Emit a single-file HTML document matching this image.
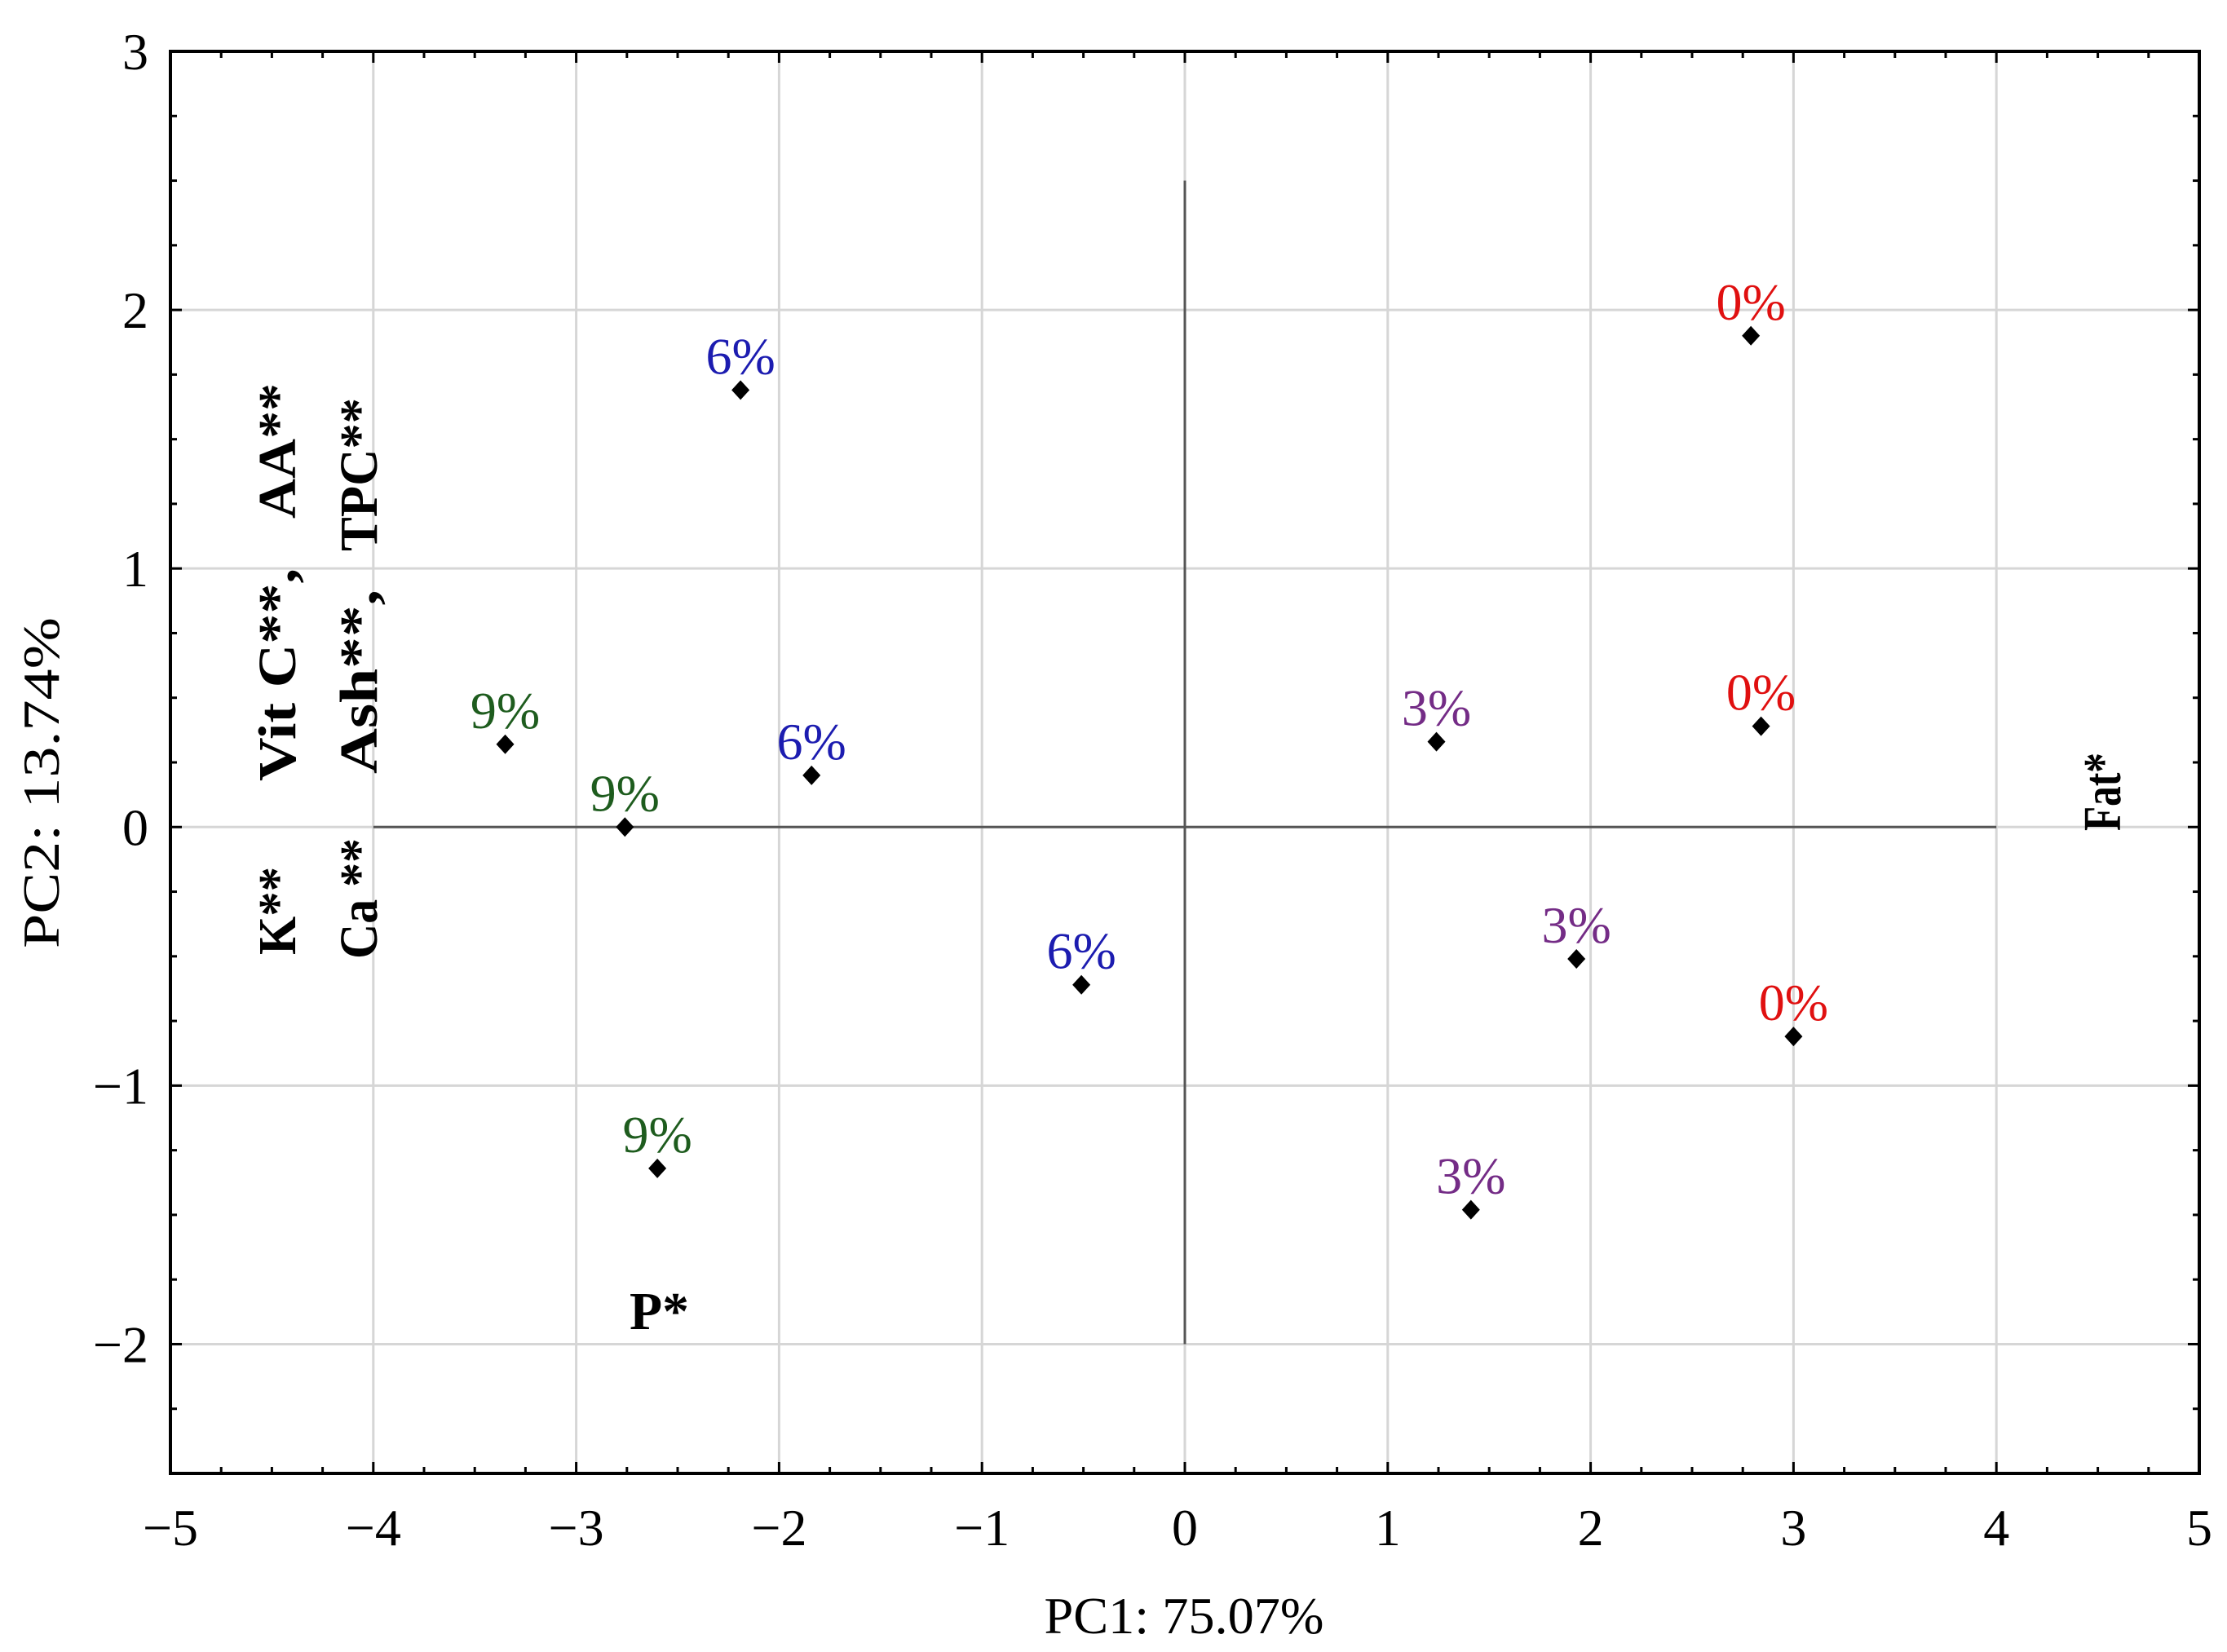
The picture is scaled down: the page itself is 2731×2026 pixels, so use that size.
<!DOCTYPE html>
<html><head><meta charset="utf-8"><style>
html,body{margin:0;padding:0;background:#fff;}
svg{display:block;font-family:"Liberation Serif",serif;}
</style></head><body>
<svg id="chart" width="2731" height="2026" viewBox="0 0 2731 2026" xmlns="http://www.w3.org/2000/svg">
<g id="grid"></g>
<g id="cross"></g>
<g id="axes"></g>
<g id="points"></g>
<g id="vars" font-size="66" font-weight="bold">
  <text x="362" y="958" textLength="261" lengthAdjust="spacingAndGlyphs" transform="rotate(-90 362 958)">Vit C**,</text>
  <text x="362" y="636" textLength="166" lengthAdjust="spacingAndGlyphs" transform="rotate(-90 362 636)">AA**</text>
  <text x="362" y="1171" textLength="108" lengthAdjust="spacingAndGlyphs" transform="rotate(-90 362 1171)">K**</text>
  <text x="462" y="949" textLength="226" lengthAdjust="spacingAndGlyphs" transform="rotate(-90 462 949)">Ash**,</text>
  <text x="462" y="676" textLength="188" lengthAdjust="spacingAndGlyphs" transform="rotate(-90 462 676)">TPC**</text>
  <text x="462" y="1176" textLength="148" lengthAdjust="spacingAndGlyphs" transform="rotate(-90 462 1176)">Ca **</text>
  <text x="2600" y="1019" textLength="96" lengthAdjust="spacingAndGlyphs" transform="rotate(-90 2600 1019)">Fat*</text>
  <text x="772" y="1630" textLength="73" lengthAdjust="spacingAndGlyphs">P*</text>
</g>
<text x="1452" y="2003" font-size="64" text-anchor="middle" textLength="343" lengthAdjust="spacingAndGlyphs">PC1: 75.07%</text>
<text x="72" y="960" font-size="64" text-anchor="middle" textLength="406" lengthAdjust="spacingAndGlyphs" transform="rotate(-90 72 960)">PC2: 13.74%</text>
</svg>
<script>
const xTicks=[-5,-4,-3,-2,-1,0,1,2,3,4,5];
const yTicks=[-2,-1,0,1,2,3];
const groups=["0%","0%","0%","3%","3%","3%","6%","6%","6%","9%","9%","9%"];
const pc1=[2.79,2.84,3.0,1.24,1.93,1.41,-2.19,-1.84,-0.51,-3.35,-2.76,-2.60];
const pc2=[1.90,0.39,-0.81,0.33,-0.51,-1.48,1.69,0.20,-0.61,0.32,0.0,-1.32];
const colors={"0%":"#e01010","3%":"#742c86","6%":"#1c1cb0","9%":"#1e5c1e"};
const NS="http://www.w3.org/2000/svg";
const L=209,R=2697,T=63,B=1807,xmin=-5,xmax=5,ymin=-2.5,ymax=3;
const xs=v=>L+(v-xmin)/(xmax-xmin)*(R-L);
const ys=v=>B-(v-ymin)/(ymax-ymin)*(B-T);
function mk(tag,attrs,parent){const e=document.createElementNS(NS,tag);for(const k in attrs)e.setAttribute(k,attrs[k]);parent.appendChild(e);return e;}
const grid=document.getElementById('grid'),axes=document.getElementById('axes'),pts=document.getElementById('points'),cross=document.getElementById('cross');
xTicks.forEach(v=>{if(v>xmin&&v<xmax){const l=mk('line',{x1:xs(v),x2:xs(v),y1:T,y2:B,stroke:'#d6d6d6','stroke-width':3},grid);

}
const t=mk('text',{x:xs(v),y:1895,'font-size':64,'text-anchor':'middle'},axes);t.textContent=(v<0?'\u2212':'')+Math.abs(v);

});
yTicks.forEach(v=>{if(v<ymax){const l=mk('line',{x1:L,x2:R,y1:ys(v),y2:ys(v),stroke:'#d6d6d6','stroke-width':3},grid);

}
const t=mk('text',{x:182,y:ys(v)+22,'font-size':64,'text-anchor':'end'},axes);t.textContent=(v<0?'\u2212':'')+Math.abs(v);

});
let h=mk('line',{x1:xs(-4),x2:xs(4),y1:ys(0),y2:ys(0),stroke:'#555','stroke-width':3},cross);


let vl=mk('line',{x1:xs(0),x2:xs(0),y1:ys(2.5),y2:ys(-2),stroke:'#555','stroke-width':3},cross);


for(let v=xmin;v<=xmax+1e-9;v+=0.25){const major=Math.abs(v-Math.round(v))<1e-6;const len=major?14:8;
mk('line',{x1:xs(v),x2:xs(v),y1:B,y2:B-len,stroke:'#000','stroke-width':3},axes);
mk('line',{x1:xs(v),x2:xs(v),y1:T,y2:T+len,stroke:'#000','stroke-width':3},axes);}
for(let v=ymin;v<=ymax+1e-9;v+=0.25){const major=Math.abs(v-Math.round(v))<1e-6;const len=major?14:8;
mk('line',{x1:L,x2:L+len,y1:ys(v),y2:ys(v),stroke:'#000','stroke-width':3},axes);
mk('line',{x1:R,x2:R-len,y1:ys(v),y2:ys(v),stroke:'#000','stroke-width':3},axes);}
const frame=mk('rect',{x:L,y:T,width:R-L,height:B-T,fill:'none',stroke:'#000','stroke-width':4},axes);


groups.forEach((g,i)=>{const x=xs(pc1[i]),y=ys(pc2[i]);
const d=mk('path',{d:`M${x} ${y-12}L${x+11} ${y}L${x} ${y+12}L${x-11} ${y}Z`,fill:'#000'},pts);


const t=mk('text',{x:x,y:y-20,'font-size':64,'text-anchor':'middle',fill:colors[g]},pts);t.textContent=g;

});
</script>
</body></html>
